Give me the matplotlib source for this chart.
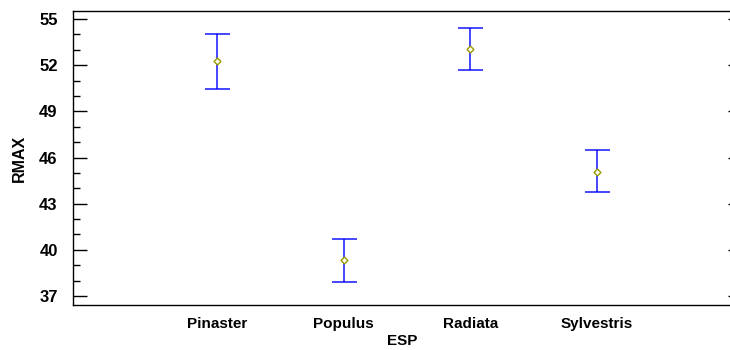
import numpy as np
import matplotlib.pyplot as plt
from matplotlib.ticker import MultipleLocator

# species means of RMAX with interval limits
species = ['Pinaster', 'Populus', 'Radiata', 'Sylvestris']
means = [52.25, 39.32, 53.08, 45.08]
lower = [50.45, 37.91, 51.67, 43.76]
upper = [54.02, 40.70, 54.44, 46.51]

plt.rcParams['font.family'] = ['Liberation Sans', 'DejaVu Sans']
plt.rcParams['font.weight'] = 'bold'

fig = plt.figure(figsize=(7.3, 3.5), dpi=100)
ax = fig.add_axes([0.1, 0.1286, 0.9027, 0.84])

x = np.arange(1, len(species) + 1)
m = np.array(means)
err = [m - np.array(lower), np.array(upper) - m]

ax.errorbar(x, m, yerr=err, fmt='none', ecolor='blue', elinewidth=1.2,
            capsize=9, capthick=1.2, alpha=0.85)
ax.plot(x, m, linestyle='none', marker='D', markersize=3.5,
        markerfacecolor='white', markeredgecolor='#9a9a00', markeredgewidth=1.0)

ax.set_xlim(-0.14, 5.07)
ax.set_ylim(36.42, 55.52)
ax.set_xticks(x)
ax.set_xticklabels(species, fontsize=11, fontweight='bold')
ax.yaxis.set_major_locator(MultipleLocator(3))
ax.yaxis.set_minor_locator(MultipleLocator(1))
ax.set_yticks(np.arange(37, 56, 3))
ax.tick_params(axis='y', which='major', direction='in', length=10, width=1.0,
               labelsize=12, pad=11)
ax.tick_params(axis='y', which='minor', direction='in', length=5, width=1.0)
ax.tick_params(axis='x', length=0, pad=9)
for lbl in ax.get_yticklabels():
    lbl.set_fontweight('bold')

# short inward ticks on the right side
sec = ax.secondary_yaxis('right')
sec.set_yticks(np.arange(37, 56, 3))
sec.tick_params(direction='in', length=3, width=1.0, labelright=False)
sec.spines['right'].set_linewidth(1.0)

for s in ax.spines.values():
    s.set_linewidth(1.0)

ax.set_xlabel('ESP', fontsize=11, fontweight='bold', labelpad=2)
ax.set_ylabel('RMAX', fontsize=11.5, fontweight='bold', labelpad=9)

fig.savefig('out.png', dpi=100)
